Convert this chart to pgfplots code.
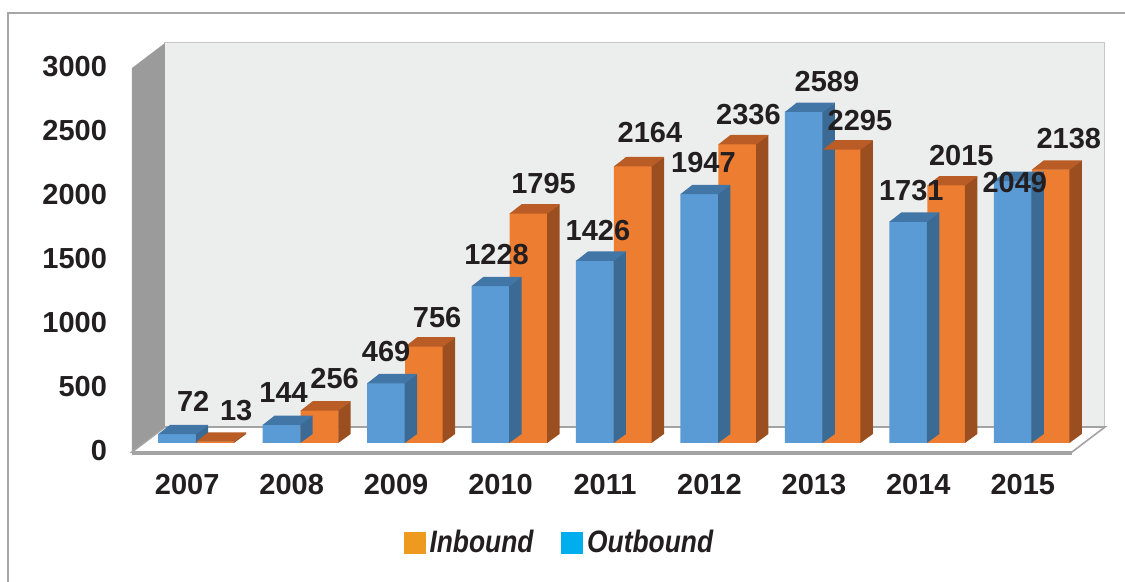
\documentclass[border=0pt]{standalone}
\usepackage{pgfplots}
\pgfplotsset{compat=1.18}
\usepackage{pgfplotstable}
\usepackage{fontspec}
\setmainfont{Liberation Sans}
\newfontfamily\legfont[FakeStretch=0.85]{Liberation Sans}

\definecolor{bluefront}{HTML}{5B9BD5}
\definecolor{bluetop}{HTML}{4276A6}
\definecolor{blueside}{HTML}{3B6A94}
\definecolor{orangefront}{HTML}{ED7D31}
\definecolor{orangetop}{HTML}{B95C25}
\definecolor{orangeside}{HTML}{9B4F21}
\definecolor{wallc}{HTML}{ECEEED}
\definecolor{sidewall}{HTML}{9B9B9B}
\definecolor{edgec}{HTML}{A3A3A3}
\definecolor{labc}{HTML}{231F20}
\definecolor{legorange}{HTML}{EE9A1E}
\definecolor{legcyan}{HTML}{00AEEF}

\pgfplotstableread{
x out inn bdx bdy odx ody
0 72 13 -1.5 16 20 15.5
1 144 256 -8.5 16 17 16
2 469 756 -9.5 15.5 16 14.5
3 1228 1795 -6.5 15.5 17 15
4 1426 2164 -8 15 18 16.5
5 1947 2336 -7.5 15.5 15 14.5
6 2589 2295 2 15 18.5 14.5
7 1731 2015 -8 15.5 17 15
8 2049 2138 -8.5 -1 18.5 15.5
}\data

\pgfdeclareplotmark{nada}{}
\pgfdeclareplotmark{boxblue}{%
  \pgfmathsetmacro\Hb{4.5-\barv*0.064}%
  \pgfmathsetmacro\Hn{-\barv*0.064}%
  \pgfsetfillcolor{blueside}%
  \pgfpathmoveto{\pgfqpoint{-0.2pt}{0pt}}%
  \pgfpathlineto{\pgfqpoint{6pt}{4.5pt}}%
  \pgfpathlineto{\pgfqpoint{6pt}{\Hb pt}}%
  \pgfpathlineto{\pgfqpoint{-0.2pt}{\Hn pt}}%
  \pgfpathclose\pgfusepath{fill}%
  \pgfsetfillcolor{bluetop}%
  \pgfpathmoveto{\pgfqpoint{-19pt}{-0.2pt}}%
  \pgfpathlineto{\pgfqpoint{0pt}{-0.2pt}}%
  \pgfpathlineto{\pgfqpoint{6pt}{4.5pt}}%
  \pgfpathlineto{\pgfqpoint{-13pt}{4.5pt}}%
  \pgfpathclose\pgfusepath{fill}%
}
\pgfdeclareplotmark{boxorange}{%
  \pgfmathsetmacro\Hb{4.5-\barv*0.064}%
  \pgfmathsetmacro\Hn{-\barv*0.064}%
  \pgfsetfillcolor{orangeside}%
  \pgfpathmoveto{\pgfqpoint{18.8pt}{0pt}}%
  \pgfpathlineto{\pgfqpoint{25pt}{4.5pt}}%
  \pgfpathlineto{\pgfqpoint{25pt}{\Hb pt}}%
  \pgfpathlineto{\pgfqpoint{18.8pt}{\Hn pt}}%
  \pgfpathclose\pgfusepath{fill}%
  \pgfsetfillcolor{orangetop}%
  \pgfpathmoveto{\pgfqpoint{0pt}{-0.2pt}}%
  \pgfpathlineto{\pgfqpoint{19pt}{-0.2pt}}%
  \pgfpathlineto{\pgfqpoint{25pt}{4.5pt}}%
  \pgfpathlineto{\pgfqpoint{6pt}{4.5pt}}%
  \pgfpathclose\pgfusepath{fill}%
}

\begin{document}
\begin{tikzpicture}
\useasboundingbox (-72pt,-69.5pt) rectangle (490.5pt,221.5pt);
\draw[color=black!35, line width=0.7pt] (-68pt,-69.5pt) -- (-68pt,215pt) -- (490.5pt,215pt);
\begin{axis}[
  at={(0pt,0pt)}, anchor=south west,
  scale only axis, width=470pt, height=192pt,
  xmin=-0.5, xmax=8.5, ymin=0, ymax=3000,
  clip=false,
  axis line style={draw=none},
  tick style={draw=none}, major tick length=0pt,
  xtick={0,...,8},
  xticklabels={2007,2008,2009,2010,2011,2012,2013,2014,2015},
  ytick={0,500,1000,1500,2000,2500,3000},
  yticklabels={0,500,1000,1500,2000,2500,3000},
  tick label style={font=\bfseries\fontsize{14.5}{16}\selectfont, text=labc},
  xticklabel style={anchor=center, yshift=-21pt, xshift=-4.5pt},
  yticklabel style={anchor=east, xshift=-15pt, yshift=-4pt},
  legend style={at={(0.443,-0.26)}, anchor=center, draw=none, fill=none,
    font=\legfont\bfseries\itshape\fontsize{15.5}{17}\selectfont, text=labc,
    /tikz/every even column/.append style={column sep=12pt}},
  legend columns=2,
]
% back wall
\fill[wallc, draw=black!22, line width=0.5pt] ([shift={(10.5pt,8pt)}]rel axis cs:0,0) rectangle ([shift={(10.5pt,8pt)}]rel axis cs:1,1);
% side wall
\fill[sidewall] ([shift={(-6pt,-4.5pt)}]rel axis cs:0,0) -- ([shift={(10.5pt,8pt)}]rel axis cs:0,0) -- ([shift={(10.5pt,8pt)}]rel axis cs:0,1) -- ([shift={(-6pt,-4.5pt)}]rel axis cs:0,1) -- cycle;
% floor
\filldraw[fill=white, draw=edgec, line width=0.8pt] ([shift={(-6pt,-4.5pt)}]rel axis cs:0,0) -- ([shift={(-6pt,-4.5pt)}]rel axis cs:1,0) -- ([shift={(10.5pt,8pt)}]rel axis cs:1,0) -- ([shift={(10.5pt,8pt)}]rel axis cs:0,0) -- cycle;
\draw[edgec, line width=1.6pt] ([shift={(-6pt,-5.2pt)}]rel axis cs:0,0) -- ([shift={(-6pt,-5.2pt)}]rel axis cs:1,0);

% blue 3D faces
\addplot[forget plot, scatter, only marks, mark=boxblue,
  scatter/@pre marker code/.code={}, scatter/@post marker code/.code={},
  visualization depends on={\thisrow{out} \as \barv}]
  table[x=x, y=out] {\data};
% blue fronts
\addplot[forget plot, ybar, bar width=19pt, bar shift=-9.5pt, fill=bluefront, draw=none]
  table[x=x, y=out] {\data};
% orange 3D faces
\addplot[forget plot, scatter, only marks, mark=boxorange,
  scatter/@pre marker code/.code={}, scatter/@post marker code/.code={},
  visualization depends on={\thisrow{inn} \as \barv}]
  table[x=x, y=inn] {\data};
% orange fronts
\addplot[forget plot, ybar, bar width=19pt, bar shift=9.5pt, fill=orangefront, draw=none]
  table[x=x, y=inn] {\data};

% value labels
\addplot[forget plot, only marks, mark=nada,
  point meta=explicit symbolic, nodes near coords,
  visualization depends on={\thisrow{bdx} \as \ldx},
  visualization depends on={\thisrow{bdy} \as \ldy},
  every node near coord/.append style={anchor=center, xshift=\ldx pt, yshift=\ldy pt,
    font=\bfseries\fontsize{14.5}{16}\selectfont, text=labc, inner sep=0pt}]
  table[x=x, y=out, meta=out] {\data};
\addplot[forget plot, only marks, mark=nada,
  point meta=explicit symbolic, nodes near coords,
  visualization depends on={\thisrow{odx} \as \ldx},
  visualization depends on={\thisrow{ody} \as \ldy},
  every node near coord/.append style={anchor=center, xshift=\ldx pt, yshift=\ldy pt,
    font=\bfseries\fontsize{14.5}{16}\selectfont, text=labc, inner sep=0pt}]
  table[x=x, y=inn, meta=inn] {\data};

\addlegendimage{legend image code/.code={\fill[legorange] (0pt,-5.25pt) rectangle (10.5pt,5.25pt);}}
\addlegendentry{Inbound}
\addlegendimage{legend image code/.code={\fill[legcyan] (0pt,-5.25pt) rectangle (10.5pt,5.25pt);}}
\addlegendentry{Outbound}
\end{axis}
\end{tikzpicture}
\end{document}
